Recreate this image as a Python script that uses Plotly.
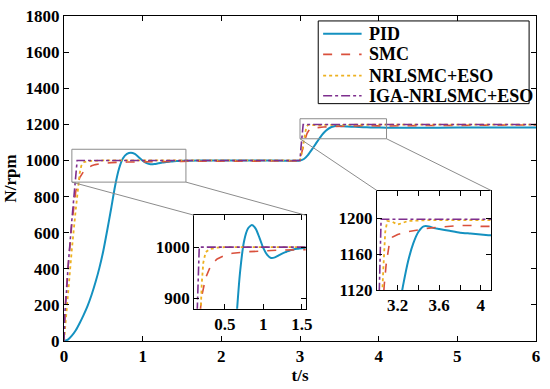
import plotly.graph_objects as go

# ---------------- data ----------------
t_pid = [0, 0.05, 0.1, 0.15, 0.2, 0.25, 0.3, 0.35, 0.4, 0.45, 0.5, 0.55, 0.6, 0.65, 0.7,
         0.75, 0.8, 0.85, 0.9, 0.95, 1.0, 1.05, 1.1, 1.15, 1.2, 1.25, 1.3, 1.35, 1.4, 1.45,
         1.5, 1.6, 1.8, 2.0, 2.5, 3.0, 3.05, 3.1, 3.15, 3.2, 3.25, 3.3, 3.35, 3.4, 3.45,
         3.5, 3.55, 3.6, 3.7, 3.8, 3.9, 4.0, 4.1, 4.5, 5.0, 5.5, 6.0]
n_pid = [0, 8, 30, 60, 100, 145, 195, 255, 325, 405, 500, 615, 735, 860, 955,
         1012, 1036, 1043, 1036, 1018, 998, 985, 979, 980, 984, 988, 991, 994, 996, 997,
         998, 999, 1000, 1000, 1000, 1000, 1008, 1030, 1060, 1092, 1124, 1152, 1172, 1185, 1191,
         1191, 1189, 1188, 1186, 1184, 1183, 1182, 1181, 1181, 1182, 1183, 1183]

t_smc = [0, 0.01, 0.02, 0.05, 0.1, 0.15, 0.2, 0.25, 0.3, 0.35, 0.4, 0.5, 0.6, 0.8, 1.0,
         1.2, 1.5, 2.0, 2.5, 3.0, 3.02, 3.05, 3.07, 3.09, 3.12, 3.15, 3.2, 3.3, 3.4, 3.5,
         3.6, 3.7, 3.8, 3.9, 4.0, 4.1, 4.5, 5.0, 5.5, 6.0]
n_smc = [0, 120, 220, 400, 650, 830, 905, 940, 958, 970, 977, 984, 988, 991, 993,
         994, 995, 996, 997, 997, 1040, 1095, 1125, 1150, 1172, 1179, 1182, 1185, 1187, 1189,
         1190, 1191, 1192, 1192, 1191, 1191, 1193, 1195, 1196, 1197]

t_nrl = [0, 0.02, 0.05, 0.075, 0.1, 0.15, 0.167, 0.2, 0.22, 0.25, 0.3, 0.4, 0.5, 1.0, 3.0,
         3.03, 3.06, 3.08, 3.1, 3.15, 3.2, 3.25, 3.3, 3.5, 4.0, 6.0]
n_nrl = [0, 110, 270, 400, 510, 730, 800, 930, 970, 990, 996, 999, 1000, 1000, 1000,
         1060, 1140, 1185, 1197, 1196, 1193, 1195, 1197, 1198, 1198, 1198]

t_iga = [0, 0.01, 0.03, 0.05, 0.1, 0.125, 0.15, 0.167, 0.5, 3.0, 3.01, 3.03, 3.04, 4.0, 6.0]
n_iga = [0, 150, 260, 400, 670, 800, 920, 1000, 1000, 1000, 1060, 1180, 1199, 1199, 1199]

series_names = ["PID", "SMC", "NRLSMC+ESO", "IGA-NRLSMC+ESO"]
colors = ["#1491C0", "#D9503C", "#EDB120", "#7E2F8E"]
dashes = ["solid", "dash", "dot", "dashdot"]
widths = [2.0, 1.6, 1.8, 1.6]

x_range = [0, 6]
y_range = [0, 1800]
x_ticks = [0, 1, 2, 3, 4, 5, 6]
y_ticks = [0, 200, 400, 600, 800, 1000, 1200, 1400, 1600, 1800]

in1_xr = [0.1, 1.55]
in1_yr = [880, 1062]
in1_xt = [0.5, 1, 1.5]
in1_xtt = ["0.5", "1", "1.5"]
in1_yt = [900, 1000]

in2_xr = [3.0, 4.1]
in2_yr = [1120, 1231]
in2_xt = [3.2, 3.4, 3.6, 3.8, 4.0]
in2_xtt = ["3.2", "", "3.6", "", "4"]
in2_yt = [1120, 1160, 1200]

# inset placements (paper fractions)
in1_dx = [0.2756, 0.512]
in1_dy = [0.099, 0.387]
in2_dx = [0.663, 0.905]
in2_dy = [0.157, 0.463]

# legend box placement (paper fractions)
leg_box_x = [0.5386, 0.9854]
leg_box_y = [0.7303, 0.9848]
leg_rows_y = [0.9455, 0.8818, 0.8167, 0.7545]
leg_line_x = [0.549, 0.6305]
leg_text_x = 0.641

FONT = "Liberation Serif, Times New Roman, serif"
data = [(t_pid, n_pid), (t_smc, n_smc), (t_nrl, n_nrl), (t_iga, n_iga)]

fig = go.Figure()
for k, (tt, nn) in enumerate(data):
    for ax_i, (xa, ya) in enumerate([("x", "y"), ("x2", "y2"), ("x3", "y3")]):
        fig.add_trace(go.Scatter(
            x=tt, y=nn, mode="lines", name=series_names[k],
            xaxis=xa, yaxis=ya, showlegend=False, cliponaxis=True,
            line=dict(color=colors[k], dash=dashes[k], width=widths[k],
                      shape="spline" if k == 0 else "linear", smoothing=0.6 if k == 0 else None),
        ))

axis_common = dict(showline=True, linecolor="black", linewidth=1, mirror="ticks",
                   ticks="inside", ticklen=5, tickcolor="black", showgrid=False, zeroline=False,
                   tickfont=dict(family=FONT, size=17, color="black", weight="bold"))

fig.update_layout(
    width=550, height=389,
    margin=dict(l=64, r=7, t=11, b=48),
    paper_bgcolor="white", plot_bgcolor="white",
    font=dict(family=FONT, size=17, color="black", weight="bold"),
    xaxis=dict(domain=[0, 1], range=x_range, tickvals=x_ticks, **axis_common,
               title=dict(text="t/s", standoff=2, font=dict(family=FONT, size=17, weight="bold"))),
    yaxis=dict(domain=[0, 1], range=y_range, tickvals=y_ticks, **axis_common,
               title=dict(text="N/rpm", standoff=4, font=dict(family=FONT, size=17, weight="bold"))),
    xaxis2=dict(domain=in1_dx, range=in1_xr, tickvals=in1_xt, ticktext=in1_xtt, anchor="y2", **axis_common),
    yaxis2=dict(domain=in1_dy, range=in1_yr, tickvals=in1_yt, anchor="x2", **axis_common),
    xaxis3=dict(domain=in2_dx, range=in2_xr, tickvals=in2_xt, ticktext=in2_xtt, anchor="y3", **axis_common),
    yaxis3=dict(domain=in2_dy, range=in2_yr, tickvals=in2_yt, anchor="x3", **axis_common),
    showlegend=False,
)


def px(x):
    return (x - x_range[0]) / (x_range[1] - x_range[0])


def py(y):
    return (y - y_range[0]) / (y_range[1] - y_range[0])


gray = "#8C8C8C"
for xr, yr, dx, dy in [(in1_xr, in1_yr, in1_dx, in1_dy), (in2_xr, in2_yr, in2_dx, in2_dy)]:
    fig.add_shape(type="rect", xref="x", yref="y", x0=xr[0], x1=xr[1], y0=yr[0], y1=yr[1],
                  line=dict(color=gray, width=1))
    fig.add_shape(type="line", xref="paper", yref="paper",
                  x0=px(xr[0]), y0=py(yr[0]), x1=dx[0], y1=dy[1], line=dict(color=gray, width=1))
    fig.add_shape(type="line", xref="paper", yref="paper",
                  x0=px(xr[1]), y0=py(yr[0]), x1=dx[1], y1=dy[1], line=dict(color=gray, width=1))

# legend (box, samples, labels)
fig.add_shape(type="rect", xref="paper", yref="paper",
              x0=leg_box_x[0], x1=leg_box_x[1], y0=leg_box_y[0], y1=leg_box_y[1],
              line=dict(color="black", width=1), fillcolor="white", layer="above")
for k in range(4):
    fig.add_shape(type="line", xref="paper", yref="paper",
                  x0=leg_line_x[0], x1=leg_line_x[1], y0=leg_rows_y[k], y1=leg_rows_y[k],
                  line=dict(color=colors[k], dash=dashes[k], width=widths[k]), layer="above")
    fig.add_annotation(xref="paper", yref="paper", x=leg_text_x, y=leg_rows_y[k],
                       xanchor="left", yanchor="middle", text=series_names[k], showarrow=False,
                       font=dict(family=FONT, size=18, color="black", weight="bold"))

fig.write_html("out.html", config={"displayModeBar": False},
               post_script="document.body.style.margin='0';")
